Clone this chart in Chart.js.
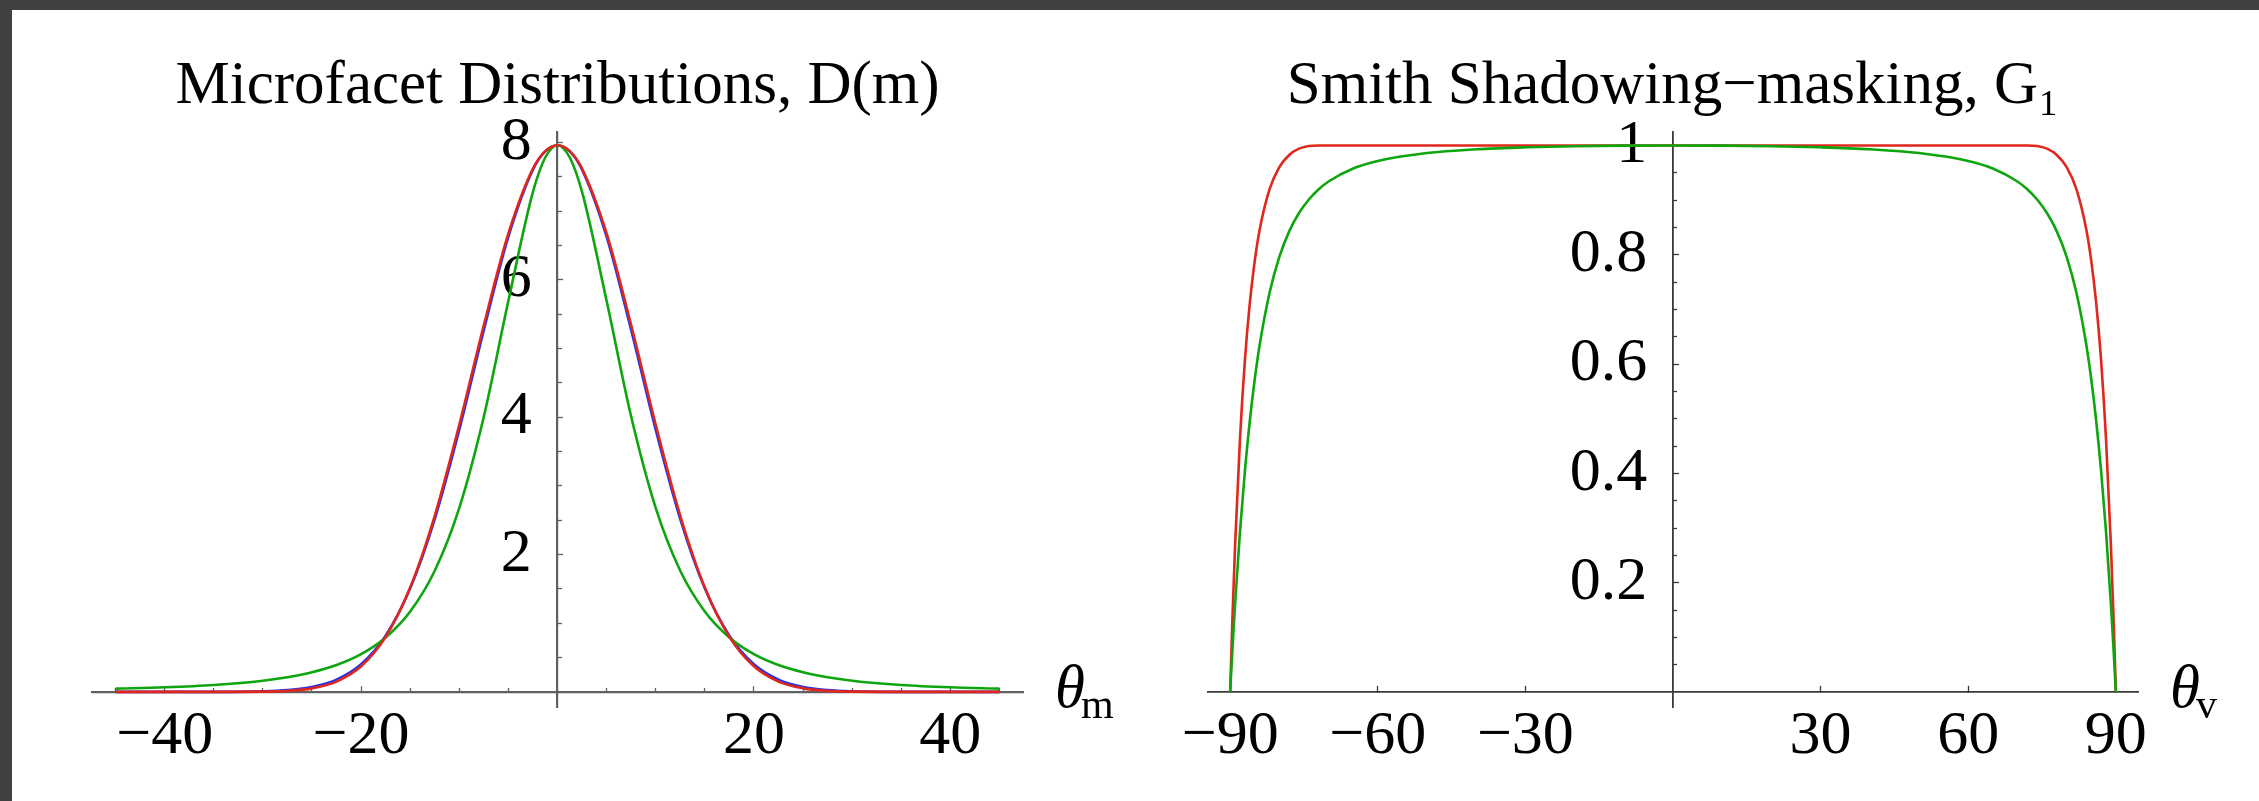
<!DOCTYPE html>
<html>
<head>
<meta charset="utf-8">
<title>Microfacet distributions and Smith G1</title>
<script src="https://cdn.jsdelivr.net/npm/chart.js@4.4.1/dist/chart.umd.min.js"></script>
<style>
  html, body { margin: 0; padding: 0; width: 2259px; height: 801px; overflow: hidden; background: #404040; }
  #sheet { position: absolute; left: 12px; top: 10px; right: 0; bottom: 0; background: #fff; }
  .plot { position: absolute; top: 0; height: 801px; }
  #left { left: 0; width: 1130px; }
  #right { left: 1130px; width: 1129px; }
</style>
</head>
<body>
<div id="sheet"></div>
<div class="plot" id="left"><canvas id="dist"></canvas></div>
<div class="plot" id="right"><canvas id="smith"></canvas></div>
<script>
// ---- D(m) for roughness 0.2, theta_m in degrees ----
const thetaM = [-45, -40, -35, -30, -27.5, -25, -22.5, -20, -17.5, -15, -12.5, -10, -7.5, -5, -2.5, -1.25,
  0, 1.25, 2.5, 5, 7.5, 10, 12.5, 15, 17.5, 20, 22.5, 25, 27.5, 30, 35, 40, 45];
const beckmannD = [0, 0, 0.0001, 0.0034, 0.0147, 0.0514, 0.1498, 0.3721, 0.8013, 1.5187, 2.5635, 3.8888, 5.3399, 6.6727, 7.6164, 7.8711,
  7.9577, 7.8711, 7.6164, 6.6727, 5.3399, 3.8888, 2.5635, 1.5187, 0.8013, 0.3721, 0.1498, 0.0514, 0.0147, 0.0034, 0.0001, 0, 0];
const phongD = [0, 0, 0.0006, 0.0080, 0.0252, 0.0708, 0.1780, 0.4019, 0.8182, 1.5070, 2.5159, 3.8165, 5.2685, 6.6270, 7.6021, 7.8673,
  7.9577, 7.8673, 7.6021, 6.6270, 5.2685, 3.8165, 2.5159, 1.5070, 0.8182, 0.4019, 0.1780, 0.0708, 0.0252, 0.0080, 0.0006, 0, 0];
const ggxD = [0.0471, 0.0668, 0.1006, 0.1624, 0.2127, 0.2848, 0.3904, 0.5489, 0.7918, 1.1702, 1.7634, 2.6784, 4.0090, 5.6928, 7.2779, 7.7790,
  7.9577, 7.7790, 7.2779, 5.6928, 4.0090, 2.6784, 1.7634, 1.1702, 0.7918, 0.5489, 0.3904, 0.2848, 0.2127, 0.1624, 0.1006, 0.0668, 0.0471];

const distXTicks = [-40, -20, 20, 40];
const distXMinor = [-45, -35, -30, -25, -15, -10, -5, 5, 10, 15, 25, 30, 35, 45];
const distYTicks = [2, 4, 6, 8];
const distYMinor = [0.5, 1, 1.5, 2.5, 3, 3.5, 4.5, 5, 5.5, 6.5, 7, 7.5];

// ---- Smith G1, theta_v in degrees ----
const thetaV = [-90, -89.5, -89, -88, -87, -86, -85, -84, -82, -80, -78, -76, -74, -72, -70, -65, -60, -50, -40, -30, -20, -10,
  0, 10, 20, 30, 40, 50, 60, 65, 70, 72, 74, 76, 78, 80, 82, 84, 85, 86, 87, 88, 89, 89.5, 90];
const smithBeckmann = [0, 0.1435, 0.2669, 0.4632, 0.6068, 0.7119, 0.7890, 0.8460, 0.9197, 0.9605, 0.9827, 0.9942, 0.9991, 1, 1, 1, 1, 1, 1, 1, 1, 1,
  1, 1, 1, 1, 1, 1, 1, 1, 1, 1, 0.9991, 0.9942, 0.9827, 0.9605, 0.9197, 0.8460, 0.7890, 0.7119, 0.6068, 0.4632, 0.2669, 0.1435, 0];
const smithGGX = [0, 0.0835, 0.1600, 0.2935, 0.4044, 0.4963, 0.5722, 0.6350, 0.7301, 0.7961, 0.8428, 0.8764, 0.9012, 0.9199, 0.9341, 0.9578, 0.9717, 0.9862, 0.9931, 0.9967, 0.9987, 0.9997,
  1, 0.9997, 0.9987, 0.9967, 0.9931, 0.9862, 0.9717, 0.9578, 0.9341, 0.9199, 0.9012, 0.8764, 0.8428, 0.7961, 0.7301, 0.6350, 0.5722, 0.4963, 0.4044, 0.2935, 0.1600, 0.0835, 0];

const smithXTicks = [-90, -60, -30, 30, 60, 90];
const smithYTicks = [0.2, 0.4, 0.6, 0.8, 1];
const smithYMinor = [0.05, 0.1, 0.15, 0.25, 0.3, 0.35, 0.45, 0.5, 0.55, 0.65, 0.7, 0.75, 0.85, 0.9, 0.95];

const RED = '#e0271b';
const GREEN = '#0ea60e';
const BLUE = '#2233ee';
const SERIF = "'Liberation Serif', 'Times New Roman', serif";

Chart.defaults.font.family = SERIF;
Chart.defaults.font.size = 62;
Chart.defaults.color = '#000';

const fmt = v => (v < 0 ? '\u2212' + Math.abs(v) : String(v));

// axes cross at the origin, ticks point into the plot
function axisScale(axis, o) {
  const horiz = axis === 'x';
  return {
    type: 'linear',
    axis,
    min: o.min,
    max: o.max,
    position: horiz ? { y: 0 } : { x: 0 },
    afterBuildTicks: s => { s.ticks = o.ticks.map(v => ({ value: v })); },
    border: { display: !o.minor, color: o.color, width: o.width },
    grid: {
      drawOnChartArea: false,
      drawTicks: true,
      tickLength: o.minor ? -4 : -7,
      tickColor: o.color,
      tickWidth: 1.3,
    },
    ticks: {
      autoSkip: false,
      maxRotation: 0,
      padding: horiz ? 15 : 0,
      callback: v => (o.minor ? '' : horiz ? fmt(v) : fmt(v) + ' \u2006'),
    },
  };
}

function series(label, xs, ys, color) {
  return {
    label,
    data: xs.map((x, i) => ({ x, y: ys[i] })),
    borderColor: color,
    borderWidth: 2.6,
    pointRadius: 0,
    cubicInterpolationMode: 'monotone',
    fill: false,
  };
}

// theta with a subscript at the right end of the horizontal axis
const axisName = {
  id: 'axisName',
  afterDraw(chart, args, opts) {
    const { ctx, chartArea } = chart;
    const y0 = chart.scales.y.getPixelForValue(0);
    const x = chartArea.right + 32;
    ctx.save();
    ctx.fillStyle = '#000';
    ctx.textBaseline = 'alphabetic';
    ctx.textAlign = 'left';
    ctx.font = 'italic 61px ' + SERIF;
    ctx.fillText('\u03b8', x, y0 + 15);
    const w = ctx.measureText('\u03b8').width;
    ctx.font = '42px ' + SERIF;
    ctx.fillText(opts.sub, x + w - 4, y0 + 26);
    ctx.restore();
  },
};

function baseOptions(title, padding, sub) {
  return {
    responsive: true,
    maintainAspectRatio: false,
    animation: false,
    events: [],
    layout: { padding },
    plugins: {
      legend: { display: false },
      tooltip: { enabled: false },
      title: {
        display: true,
        text: title,
        color: '#000',
        font: { size: 61, weight: 'normal', lineHeight: 1.2 },
        padding: { top: 40, bottom: 8.8 },
      },
      axisName: { sub },
    },
  };
}

const distOpts = baseOptions('Microfacet Distributions, D(m)', { left: 92, right: 107, top: 10, bottom: 94 }, 'm');
distOpts.scales = {
  x: axisScale('x', { min: -47.4, max: 47.4, ticks: distXTicks, color: '#606060', width: 2.2 }),
  xMinor: axisScale('x', { min: -47.4, max: 47.4, ticks: distXMinor, color: '#606060', minor: true }),
  y: axisScale('y', { min: -0.22, max: 8.15, ticks: distYTicks, color: '#606060', width: 2.2 }),
  yMinor: axisScale('y', { min: -0.22, max: 8.15, ticks: distYMinor, color: '#606060', minor: true }),
};

new Chart(document.getElementById('dist'), {
  type: 'line',
  data: {
    datasets: [
      series('Beckmann', thetaM, beckmannD, RED),
      series('GGX', thetaM, ggxD, GREEN),
      series('Phong', thetaM, phongD, BLUE),
    ],
  },
  options: distOpts,
  plugins: [axisName],
});

const smithOpts = baseOptions('Smith Shadowing\u2212masking, G\u2081', { left: 78, right: 121, top: 10, bottom: 94 }, 'v');
smithOpts.scales = {
  x: axisScale('x', { min: -94.5, max: 94.5, ticks: smithXTicks, color: '#3a3a3a', width: 1.8 }),
  y: axisScale('y', { min: -0.0275, max: 1.0247, ticks: smithYTicks, color: '#3a3a3a', width: 1.8 }),
  yMinor: axisScale('y', { min: -0.0275, max: 1.0247, ticks: smithYMinor, color: '#3a3a3a', minor: true }),
};

new Chart(document.getElementById('smith'), {
  type: 'line',
  data: {
    datasets: [
      series('GGX', thetaV, smithGGX, GREEN),
      series('Beckmann', thetaV, smithBeckmann, RED),
    ],
  },
  options: smithOpts,
  plugins: [axisName],
});
</script>
</body>
</html>
